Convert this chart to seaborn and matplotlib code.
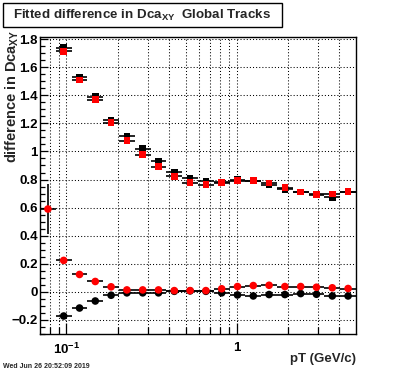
import numpy as np
import pandas as pd
import matplotlib
matplotlib.use("Agg")
import matplotlib.pyplot as plt
import seaborn as sns
from matplotlib.ticker import FixedLocator, FixedFormatter, NullFormatter
from matplotlib.patches import Rectangle

# ---------------- data ----------------
pt_edges = [0.07, 0.08665, 0.10727, 0.13279, 0.16438, 0.20349, 0.25190, 0.31183,
            0.38602, 0.47786, 0.59155, 0.73228, 0.90651, 1.12218, 1.38916,
            1.71966, 2.12879, 2.63527, 3.26223, 4.03834, 5.0]
pt = [0.0779, 0.0964, 0.1194, 0.1477, 0.1829, 0.2264, 0.2803, 0.3469, 0.4295,
      0.5317, 0.6581, 0.8147, 1.0085, 1.2485, 1.5455, 1.9132, 2.3684, 2.9318,
      3.6293, 4.4927]

upper_black = [np.nan, 1.739, 1.531, 1.391, 1.223, 1.108, 1.020, 0.929, 0.853,
               0.808, 0.788, 0.781, 0.800, 0.790, 0.762, 0.731, 0.712, 0.695,
               0.674, 0.712]
upper_red = [np.nan, 1.713, 1.508, 1.369, 1.204, 1.077, 0.977, 0.891, 0.822,
             0.777, 0.764, 0.778, 0.793, 0.791, 0.776, 0.741, 0.712, 0.692,
             0.697, 0.714]
lower_black = [np.nan, -0.172, -0.115, -0.065, -0.024, -0.007, -0.007, -0.007,
               0.004, 0.007, 0.004, -0.007, -0.022, -0.029, -0.019, -0.019,
               -0.012, -0.017, -0.029, -0.029]
lower_red = [0.590, 0.224, 0.124, 0.074, 0.036, 0.014, 0.014, 0.014, 0.009,
             0.009, 0.009, 0.022, 0.038, 0.045, 0.047, 0.038, 0.038, 0.033,
             0.029, 0.024]
lower_red_err = [0.18, 0.006, 0.005, 0.005, 0.004, 0.004, 0.004, 0.004, 0.004,
                 0.004, 0.004, 0.004, 0.004, 0.004, 0.004, 0.004, 0.004, 0.004,
                 0.004, 0.004]
upper_err = 0.006
lower_black_err = 0.004

ytick_vals = [-0.2, 0, 0.2, 0.4, 0.6, 0.8, 1.0, 1.2, 1.4, 1.6, 1.8]
ytick_labels = ["\u22120.2", "0", "0.2", "0.4", "0.6", "0.8", "1", "1.2", "1.4", "1.6", "1.8"]
xtick_vals = [0.1, 1.0]
xtick_labels = ["10$^{\\mathregular{-1}}$", "1"]
xminor_vals = [0.08, 0.09, 0.2, 0.3, 0.4, 0.5, 0.6, 0.7, 0.8, 0.9, 2, 3, 4]

title = "Fitted difference in Dca$_{\\mathregular{XY}}$  Global Tracks"
ylabel = "difference in Dca$_{\\mathregular{XY}}$"
xlabel = "pT (GeV/c)"
datestamp = "Wed Jun 26 20:52:09 2019"

# ---------------- style ----------------
sns.set_theme(style="white")
plt.rcParams['font.family'] = ['Liberation Sans', 'DejaVu Sans']
plt.rcParams['font.weight'] = 'bold'
plt.rcParams['mathtext.fontset'] = 'custom'
plt.rcParams['mathtext.rm'] = 'Liberation Sans:bold'
plt.rcParams['mathtext.it'] = 'Liberation Sans:bold'
plt.rcParams['mathtext.bf'] = 'Liberation Sans:bold'
plt.rcParams['mathtext.default'] = 'regular'

W, H = 396, 372
fig = plt.figure(figsize=(W / 100, H / 100), dpi=100)
fig.patch.set_facecolor('white')
ax = fig.add_axes([40 / W, (H - 334) / H, 316 / W, 297 / H])
ax.set_facecolor('white')

edges = np.array(pt_edges)
ptv = np.array(pt)
xlo = ptv - edges[:-1]
xhi = edges[1:] - ptv

def ebar(vals, err):
    v = np.array(vals, dtype=float)
    ax.errorbar(ptv, v, xerr=[xlo, xhi], yerr=err, fmt='none', ecolor='black',
                elinewidth=1.2, capsize=0, zorder=3)

ebar(upper_black, upper_err)
ebar(upper_red, upper_err)
ebar(lower_black, lower_black_err)
ebar(lower_red, np.array(lower_red_err))

def pts(vals, color, marker, s):
    df = pd.DataFrame({'pt': pt, 'val': vals}).dropna()
    sns.scatterplot(data=df, x='pt', y='val', color=color, marker=marker, s=s,
                    linewidth=0, edgecolor='none', legend=False, ax=ax, zorder=4)

pts(upper_black, 'black', 's', 23)
pts(upper_red, '#ff0000', 's', 23)
pts(lower_black, 'black', 'o', 30)
pts(lower_red, '#ff0000', 'o', 30)

ax.set_xscale('log')
ax.set_xlim(0.07, 5.0)
ax.set_ylim(-0.3, 1.815)

ax.xaxis.set_major_locator(FixedLocator(xtick_vals))
ax.xaxis.set_major_formatter(FixedFormatter(xtick_labels))
ax.xaxis.set_minor_locator(FixedLocator(xminor_vals))
ax.xaxis.set_minor_formatter(NullFormatter())
ax.yaxis.set_major_locator(FixedLocator(ytick_vals))
ax.yaxis.set_major_formatter(FixedFormatter(ytick_labels))
ax.yaxis.set_minor_locator(FixedLocator(np.arange(-0.3, 1.8001, 0.05)))

ax.tick_params(axis='both', which='both', direction='in', colors='black',
               top=False, right=False, left=True, bottom=True)
ax.tick_params(axis='y', which='major', length=6, width=0.9, pad=1.5, labelsize=9.5)
ax.tick_params(axis='y', which='minor', length=3.5, width=0.9)
ax.tick_params(axis='x', which='major', length=8, width=0.9, pad=5.5, labelsize=9.5)
ax.tick_params(axis='x', which='minor', length=5, width=0.9)

grid_kw = dict(color='black', linestyle=(0, (1, 2)), linewidth=0.75)
ax.grid(True, axis='x', which='both', **grid_kw)
ax.grid(True, axis='y', which='major', **grid_kw)
ax.set_axisbelow(True)

for sp in ax.spines.values():
    sp.set_visible(True)
    sp.set_color('black')
    sp.set_linewidth(1.0)

ax.set_xlabel('')
ax.set_ylabel('')

# title box
fig.patches.append(Rectangle((3 / W, 1 - 27 / H), (282 - 3) / W, (27 - 3) / H,
                             transform=fig.transFigure, facecolor='white',
                             edgecolor='black', linewidth=1.0))
fig.text(13 / W, 1 - 15 / H, title, ha='left', va='center', fontsize=9.6,
         fontweight='bold')

fig.text(12 / W, 1 - 30 / H, ylabel, rotation=90, ha='center', va='top',
         fontsize=10.5, fontweight='bold')
fig.text(356 / W, 1 - 362 / H, xlabel, ha='right', va='baseline',
         fontsize=9.5, fontweight='bold')
fig.text(3 / W, 1 - 368 / H, datestamp, ha='left', va='baseline',
         fontsize=5, fontweight='bold')

fig.savefig('out.png', dpi=100, facecolor='white')
